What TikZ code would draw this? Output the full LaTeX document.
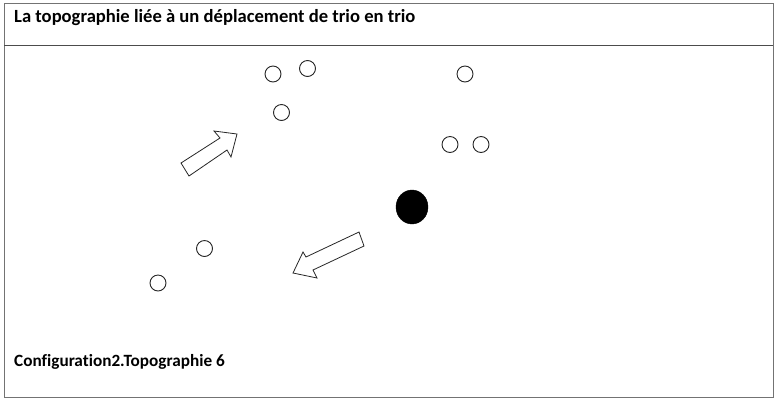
\documentclass[tikz,border=0pt]{standalone}
\usepackage{fontspec}
\setmainfont{Carlito}[Ligatures={NoCommon}]
\usetikzlibrary{positioning}
\usetikzlibrary{shapes.geometric}
\tikzstyle{player}=[circle,draw=black!85,fill=white,line width=0.9pt,minimum size=16pt,inner sep=0pt]
\tikzstyle{ball}=[ellipse,fill=black,draw=black,minimum width=32pt,minimum height=34pt,inner sep=0pt]
\tikzstyle{blockarrow}=[draw=black!85,line width=0.8pt,fill=white,line join=miter]
\tikzstyle{caption}=[font=\bfseries,anchor=base west,inner sep=0pt]

\begin{document}
\begin{tikzpicture}[x=1pt,y=-1pt]
    \useasboundingbox (0,0) rectangle (775,400);
    % frame
    \draw[black!55,line width=1pt] (4,3) rectangle (773,397);
    \draw[black!70,line width=1pt] (4,45.5) -- (773,45.5);
    \node[caption,font=\bfseries\fontsize{18.6}{22}\selectfont] (title) at (14,22) {La topographie liée à un déplacement de trio en trio};
    \node[caption,font=\bfseries\fontsize{17.2}{20}\selectfont] (config) at (14,366) {Configuration2.Topographie 6};

    \foreach \pos/\name in {{(273,74)/A}, {(307.5,68.5)/B}, {(281.5,112.5)/C}, {(465,74)/D}, {(450,144.5)/E}, {(481,144.5)/F}, {(204.5,248.5)/G}, {(158,283)/H}}
        \node[player] (\name) at \pos {};

    \node[ball] (ballon) at (412,207) {};

    % arrows
    \path[blockarrow] (181,163) -- (220,138) -- (214,131) -- (237,134) -- (231,157) -- (227,150) -- (189,176) -- cycle;
    \path[blockarrow] (359,232) -- (306,257) -- (303,252) -- (293,273) -- (317,278) -- (313,270) -- (364,246) -- cycle;
\end{tikzpicture}
\end{document}
